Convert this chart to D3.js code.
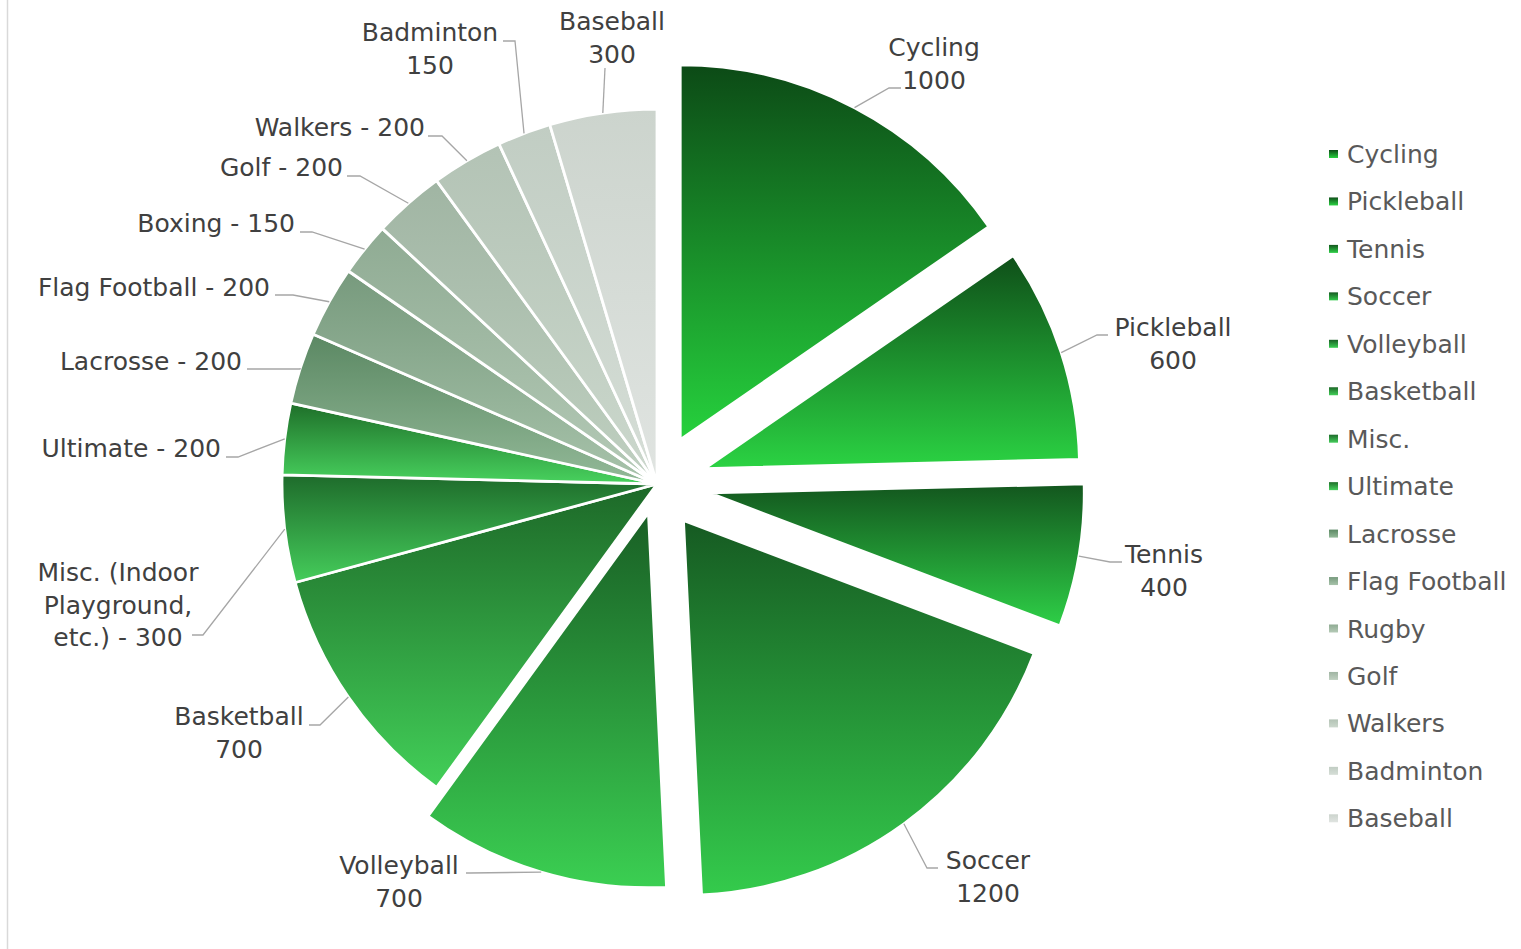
<!DOCTYPE html>
<html>
<head>
<meta charset="utf-8">
<script src="https://cdnjs.cloudflare.com/ajax/libs/d3/7.8.5/d3.min.js"></script>
<style>
    body { margin: 0; background: #fff; }
    svg { display: block; }
</style>
</head>
<body>
<div id="chart"></div>
<script>
// data
var categories = ["Cycling", "Pickleball", "Tennis", "Soccer", "Volleyball", "Basketball", "Misc.", "Ultimate",
    "Lacrosse", "Flag Football", "Rugby", "Golf", "Walkers", "Badminton", "Baseball"];
var values = [1000, 600, 400, 1200, 700, 700, 300, 200, 200, 200, 150, 200, 200, 150, 300];
// data label names (the chart's own labels differ from the legend in two places)
var labelNames = ["Cycling", "Pickleball", "Tennis", "Soccer", "Volleyball", "Basketball",
    "Misc. (Indoor|Playground,|etc.)", "Ultimate", "Lacrosse", "Flag Football", "Boxing", "Golf",
    "Walkers", "Badminton", "Baseball"];
var labelJoin = ["|", "|", "|", "|", "|", "|", " - ", " - ", " - ", " - ", " - ", " - ", " - ", "|", "|"];

// styling
var topColors = ["#0c4a16", "#0f4f19", "#13561e", "#165a22", "#195f25", "#1d6828", "#1e6b2b", "#1e6e29",
    "#5b8863", "#779a7d", "#8fab93", "#a0b5a3", "#b3c3b5", "#c1cdc3", "#ccd4cd"];
var bottomColors = ["#26d13d", "#2bd343", "#2ecf47", "#34cb4c", "#3bcf52", "#42cf58", "#45cd5b", "#48d25e",
    "#93b998", "#a8c3ab", "#b5cab7", "#c0d0c1", "#ccd8cd", "#d6ded7", "#e0e4e1"];
var explode = [50, 50, 53, 45, 30, 0, 0, 0, 0, 0, 0, 0, 0, 0, 0];

// label placement: [x, y of first line centre, anchor], leader elbow [x, y], leader tail x
var labelPos = [[934, 47, "middle"], [1173, 327, "middle"], [1164, 554, "middle"], [988, 860, "middle"],
    [399, 865, "middle"], [239, 716, "middle"], [118, 572, "middle"], [221, 448, "end"], [242, 361, "end"],
    [270, 287, "end"], [295, 223, "end"], [343, 167, "end"], [425, 127, "end"], [430, 32, "middle"],
    [612, 21, "middle"]];
var elbows = [[889, 88, 901], [1097, 335, 1108], [1110, 562, 1122], [927, 868, 938], [470, 873, 466],
    [320, 725, 309], [203, 635, 192], [238, 457, 226], [300, 369, 247], [293, 295, 275], [312, 232, 300],
    [360, 176, 347], [442, 136, 428], [515, 41, 503], [605, 68, 605]];

var W = 1521, H = 949;
var cx = 657, cy = 484, radius = 375;
var fontFam = "'DejaVu Sans', sans-serif";

var svg = d3.select("#chart")
    .append("svg")
    .attr("width", W)
    .attr("height", H);

// left border of the chart area
svg.append("line")
    .attr("x1", 7.5).attr("x2", 7.5)
    .attr("y1", 0).attr("y2", H)
    .style("stroke", "#d9d9d9")
    .style("stroke-width", 1.5);

// gradients
var defs = svg.append("defs");
categories.forEach(function (c, i) {
    var g = defs.append("linearGradient")
        .attr("id", "grad" + i)
        .attr("x1", 0).attr("y1", 0)
        .attr("x2", 0).attr("y2", 1);
    g.append("stop").attr("offset", "0%").attr("stop-color", topColors[i]);
    g.append("stop").attr("offset", "100%").attr("stop-color", bottomColors[i]);
});

var pie = d3.pie().sort(null).value(function (d) { return d; });
var arcs = pie(values);

var arc = d3.arc().innerRadius(0).outerRadius(radius);

function offsetOf(d, i) {
    var mid = (d.startAngle + d.endAngle) / 2;
    return [explode[i] * Math.sin(mid), -explode[i] * Math.cos(mid)];
}

var g = svg.append("g")
    .attr("transform", "translate(" + cx + "," + cy + ")");

g.selectAll("path.slice")
    .data(arcs)
    .enter()
    .append("path")
    .attr("class", "slice")
    .attr("d", arc)
    .attr("transform", function (d, i) {
        var o = offsetOf(d, i);
        return "translate(" + o[0] + "," + o[1] + ")";
    })
    .style("fill", function (d, i) { return "url(#grad" + i + ")"; })
    .style("stroke", "#fff")
    .style("stroke-width", 2.8)
    .style("stroke-linejoin", "round");

// leader lines
svg.append("g")
    .selectAll("polyline")
    .data(arcs)
    .enter()
    .append("polyline")
    .attr("points", function (d, i) {
        var mid = (d.startAngle + d.endAngle) / 2;
        var o = offsetOf(d, i);
        var sx = cx + o[0] + radius * Math.sin(mid);
        var sy = cy + o[1] - radius * Math.cos(mid);
        var e = elbows[i];
        return [[sx, sy], [e[0], e[1]], [e[2], e[1]]].map(function (p) { return p.join(","); }).join(" ");
    })
    .style("fill", "none")
    .style("stroke", "#a6a6a6")
    .style("stroke-width", 1.3);

// data labels
var lineH = 32.5;
var labels = svg.append("g")
    .selectAll("text")
    .data(arcs)
    .enter()
    .append("text")
    .attr("text-anchor", function (d, i) { return labelPos[i][2]; })
    .style("font-family", fontFam)
    .style("font-size", "25px")
    .style("fill", "#404040");

labels.each(function (d, i) {
    var lines = (labelNames[i] + labelJoin[i] + values[i]).split("|");
    var t = d3.select(this);
    lines.forEach(function (ln, k) {
        t.append("tspan")
            .attr("x", labelPos[i][0])
            .attr("y", labelPos[i][1] + k * lineH)
            .attr("dy", "0.36em")
            .text(ln);
    });
});

// legend
var legend = svg.append("g")
    .selectAll("g")
    .data(categories)
    .enter()
    .append("g")
    .attr("transform", function (d, i) {
        return "translate(1329," + (154 + i * 47.45) + ")";
    });

legend.append("rect")
    .attr("x", 0)
    .attr("y", -4)
    .attr("width", 9)
    .attr("height", 8)
    .style("fill", function (d, i) { return "url(#grad" + i + ")"; });

legend.append("text")
    .attr("x", 18)
    .attr("y", 0)
    .attr("dy", "0.36em")
    .style("font-family", fontFam)
    .style("font-size", "25px")
    .style("fill", "#595959")
    .text(function (d) { return d; });
</script>
</body>
</html>
